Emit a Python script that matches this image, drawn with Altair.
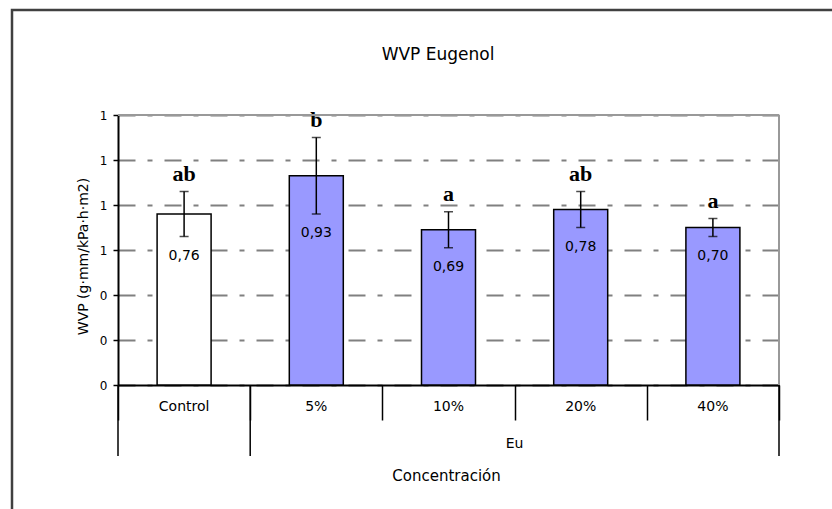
import altair as alt
import pandas as pd

# Water vapour permeability of films with eugenol, by concentration
categories = ["Control", "5%", "10%", "20%", "40%"]
groups = ["Control", "Eu", "Eu", "Eu", "Eu"]
wvp_mean = [0.76, 0.93, 0.69, 0.78, 0.70]
wvp_err = [0.10, 0.17, 0.08, 0.08, 0.04]
tukey_letters = ["ab", "b", "a", "ab", "a"]
y_ticks = [0, 0.2, 0.4, 0.6, 0.8, 1.0, 1.2]

W, H = 661, 270
SANS = "DejaVu Sans"

df = pd.DataFrame({
    "cat": categories,
    "group": groups,
    "mean": wvp_mean,
    "err": wvp_err,
    "letter": tukey_letters,
})
df["lo"] = df["mean"] - df["err"]
df["hi"] = df["mean"] + df["err"]
df["label"] = [f"{m:.2f}".replace(".", ",") for m in df["mean"]]

one = pd.DataFrame({"k": [0]})

x_scale = alt.Scale(domain=categories, paddingInner=0, paddingOuter=0)
y_scale = alt.Scale(domain=[0, 1.2], nice=False, zero=True)

x_axis = alt.Axis(
    labels=False, title=None, domainColor="black", domainWidth=2,
    tickBand="extent", tickSize=35, tickColor="black", tickWidth=1.5,
)
y_axis = alt.Axis(
    values=y_ticks, format=".0f", grid=True, gridDash=[17, 12, 5, 12],
    gridColor="#808080", gridWidth=2, domainColor="black", domainWidth=2,
    tickColor="black", tickSize=5, tickWidth=1.5,
    labelFont=SANS, labelFontSize=12, labelPadding=6, labelColor="black",
    title="WVP (g·mm/kPa·h·m2)", titleFont=SANS, titleFontSize=14,
    titleFontWeight="normal", titleColor="black", titleAngle=270,
    titleX=-35, titleY=H / 2 + 6, titleAlign="center", titleBaseline="middle",
)


def xenc(**kw):
    return alt.X("cat:N", scale=x_scale, sort=categories, axis=x_axis, **kw)


def yenc(field):
    return alt.Y(field, scale=y_scale, axis=y_axis)


base = alt.Chart(df)

# outer frame of the chart
frame = alt.Chart(one).mark_rect(
    fill="transparent", stroke="#404040", strokeWidth=2.5
).encode(
    x=alt.value(-106), x2=alt.value(W + 90),
    y=alt.value(-105), y2=alt.value(H + 160),
)

bars = base.mark_bar(size=54, stroke="black", strokeWidth=1.5).encode(
    x=xenc(),
    y=yenc("mean:Q"),
    color=alt.Color(
        "group:N",
        scale=alt.Scale(domain=["Control", "Eu"], range=["white", "#9999ff"]),
        legend=None,
    ),
)

whiskers = base.mark_rule(color="black", strokeWidth=1.5).encode(
    x=xenc(), y=yenc("lo:Q"), y2="hi:Q"
)
cap_hi = base.mark_tick(color="black", thickness=1.5, size=9).encode(
    x=xenc(), y=yenc("hi:Q")
)
cap_lo = base.mark_tick(color="black", thickness=1.5, size=9).encode(
    x=xenc(), y=yenc("lo:Q")
)

letters = base.mark_text(
    font="Liberation Serif", fontWeight="bold", fontSize=22,
    baseline="alphabetic", dy=-11, color="black",
).encode(x=xenc(), y=yenc("hi:Q"), text="letter:N")

values = base.mark_text(
    font=SANS, fontSize=14, baseline="middle", dy=19, color="black"
).encode(x=xenc(), y=yenc("lo:Q"), text="label:N")

# plot-area border on top and right
top_border = alt.Chart(one).mark_rule(color="#999999", strokeWidth=2).encode(
    x=alt.value(0), x2=alt.value(W), y=alt.value(0)
)
right_border = alt.Chart(one).mark_rule(color="#999999", strokeWidth=2).encode(
    x=alt.value(W), y=alt.value(0), y2=alt.value(H)
)

# category labels and the two-level axis separators
cat_labels = base.mark_text(
    font=SANS, fontSize=14, baseline="middle", color="black"
).encode(x=xenc(), y=alt.value(H + 22), text="cat:N")

sep_left = alt.Chart(pd.DataFrame({"cat": ["Control", "5%"]})).mark_rule(
    color="black", strokeWidth=1.5
).encode(x=xenc(bandPosition=0), y=alt.value(H), y2=alt.value(H + 71))

sep_right = alt.Chart(pd.DataFrame({"cat": ["40%"]})).mark_rule(
    color="black", strokeWidth=1.5
).encode(x=xenc(bandPosition=1), y=alt.value(H), y2=alt.value(H + 71))

group_label = alt.Chart(pd.DataFrame({"cat": ["10%"], "name": ["Eu"]})).mark_text(
    font=SANS, fontSize=14, baseline="middle", color="black"
).encode(x=xenc(bandPosition=1), y=alt.value(H + 59), text="name:N")

axis_title = alt.Chart(pd.DataFrame({"t": ["Concentración"]})).mark_text(
    font=SANS, fontSize=15, baseline="middle", color="black"
).encode(x=alt.value(W / 2 - 2), y=alt.value(H + 91), text="t:N")

chart_title = alt.Chart(pd.DataFrame({"t": ["WVP Eugenol"]})).mark_text(
    font=SANS, fontSize=17, baseline="middle", color="black"
).encode(x=alt.value(320), y=alt.value(-60), text="t:N")

chart = alt.layer(
    frame, bars, whiskers, cap_hi, cap_lo, letters, values,
    top_border, right_border, cat_labels, sep_left, sep_right,
    group_label, axis_title, chart_title,
).properties(
    width=W,
    height=H,
    padding={"left": 118, "top": 115, "right": 53, "bottom": 124},
    autosize=alt.AutoSizeParams(type="none"),
    background="white",
).configure_view(strokeWidth=0)

chart.save("out.html", embed_options={"renderer": "svg", "actions": False})
